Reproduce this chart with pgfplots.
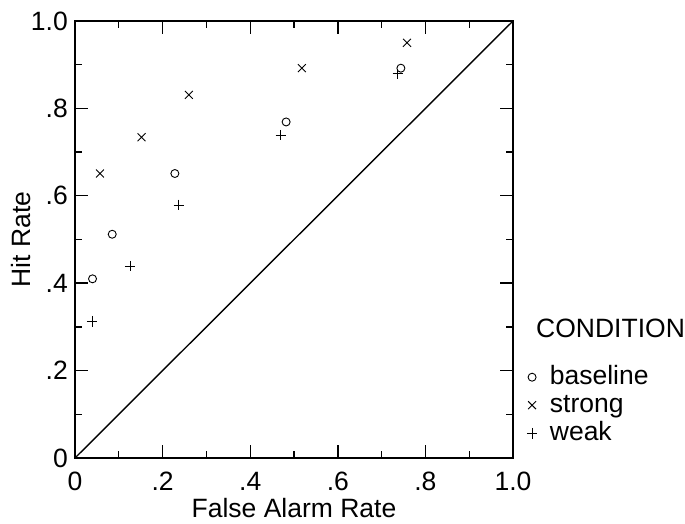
\documentclass[border=0pt]{standalone}
\usepackage{fontspec}
\setmainfont{Liberation Sans}
\usepackage{pgfplots}
\pgfplotsset{compat=1.18}

\newcommand{\bigfont}{\fontsize{26.5pt}{31pt}\selectfont}

\begin{document}
\bigfont
\begin{tikzpicture}
\path[use as bounding box] (-75pt,-66pt) rectangle (610pt,458pt);
\begin{axis}[
    scale only axis,
    width=438pt, height=437pt,
    xmin=0, xmax=1, ymin=0, ymax=1,
    axis line style={line width=1.6pt},
    xtick={0,0.2,0.4,0.6,0.8,1},
    ytick={0,0.2,0.4,0.6,0.8,1},
    xticklabels={0,.2,.4,.6,.8,1.0},
    yticklabels={0,.2,.4,.6,.8,1.0},
    minor xtick={0.1,0.3,0.5,0.7,0.9},
    minor ytick={0.1,0.3,0.5,0.7,0.9},
    tick align=inside,
    xtick pos=both, ytick pos=both,
    xticklabel pos=lower, yticklabel pos=left,
    major tick length=13pt,
    minor tick length=7pt,
    every tick/.style={black, line width=1.4pt},
    tick label style={font=\bigfont},
    xticklabel style={inner sep=0pt, yshift=-14pt},
    yticklabel style={inner sep=0pt, xshift=-7pt},
    xlabel={False Alarm Rate},
    ylabel={Hit Rate},
    every axis x label/.style={at={(axis description cs:0.5,-0.1373)}, anchor=base, font=\bigfont},
    every axis y label/.style={at={(axis description cs:-0.1027,0.5)}, rotate=90, anchor=base, font=\bigfont},
    legend style={
        at={(axis description cs:1.031,0.2128)}, anchor=north west,
        draw=none, fill=none, inner sep=0pt,
        font=\bigfont,
        nodes={inner sep=0pt, text height=19pt, text depth=5pt},
        row sep=4pt,
        /tikz/every odd column/.append style={column sep=12.5pt},
    },
    legend cell align=left,
    clip=false,
]
\addplot[black, line width=1.4pt, forget plot] coordinates {(0,0) (1,1)};
\addplot[only marks, mark=o, mark size=4pt, mark options={line width=0.9pt}, black] coordinates {
    (0.040,0.410) (0.085,0.512) (0.228,0.651) (0.482,0.769) (0.744,0.892)
};
\addplot[only marks, mark=x, mark size=5.6pt, mark options={line width=0.9pt}, black] coordinates {
    (0.057,0.651) (0.152,0.734) (0.260,0.831) (0.518,0.892) (0.758,0.950)
};
\addplot[only marks, mark=+, mark size=5.3pt, mark options={line width=0.9pt}, black] coordinates {
    (0.039,0.313) (0.126,0.439) (0.237,0.579) (0.470,0.739) (0.737,0.879)
};
\legend{baseline, strong, weak}
\node[anchor=base west, inner sep=0pt, font=\bigfont]
    at (axis description cs:1.0525,0.2746) {CONDITION};
\end{axis}
\end{tikzpicture}
\end{document}
